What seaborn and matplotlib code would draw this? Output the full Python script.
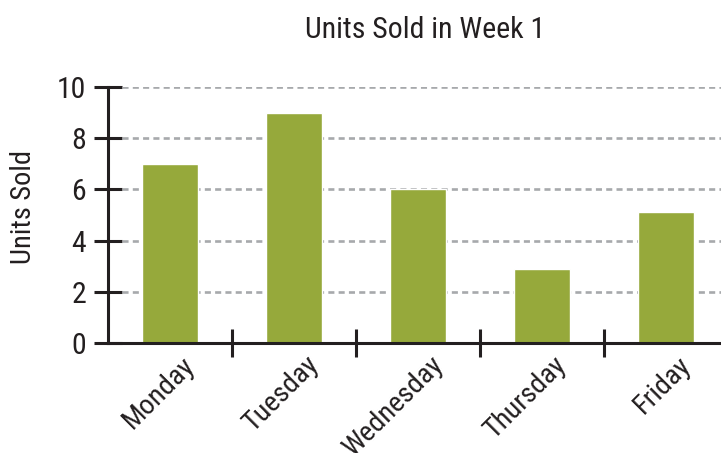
import matplotlib
matplotlib.use("Agg")
import matplotlib.pyplot as plt
import matplotlib.transforms as mtransforms
import seaborn as sns
import pandas as pd

days = ["Monday", "Tuesday", "Wednesday", "Thursday", "Friday"]
units = [7, 9, 6, 2.9, 5.1]
y_ticks = [0, 2, 4, 6, 8, 10]
grid_levels = [2, 4, 6, 8, 10]

title = "Units Sold in Week 1"
y_label = "Units Sold"

sns.set_theme(style="white")
plt.rcParams["font.family"] = ["Roboto Condensed", "Roboto", "DejaVu Sans"]

ink = "#231f20"
bar_color = "#96a93b"
grid_color = "#a7a9ac"

df = pd.DataFrame({"day": days, "units": units})

fig = plt.figure(figsize=(7.21, 4.53), dpi=100)
ax = fig.add_axes([108 / 721, 1 - 343 / 453, 620 / 721, 256 / 453])

sns.barplot(data=df, x="day", y="units", color=bar_color, width=0.45,
            saturation=1, ax=ax, zorder=3)

ax.set_xlim(-0.5, 4.5)
ax.set_ylim(0, 10)

# dashed guides starting just past the y tick marks
ax.hlines(grid_levels, -0.5 + 14 / 124, 4.5, colors=grid_color,
          linestyles=(0, (2.3, 1.6)), linewidth=1.9, zorder=1)

for side in ["top", "right"]:
    ax.spines[side].set_visible(False)
for side in ["left", "bottom"]:
    ax.spines[side].set_color(ink)
    ax.spines[side].set_linewidth(2.2)
    ax.spines[side].set_zorder(4)

ax.set_yticks(y_ticks)
ax.set_yticklabels([str(v) for v in y_ticks])
ax.tick_params(axis="y", left=True, direction="inout", length=19.5, width=2.2,
               color=ink, labelcolor=ink, labelsize=21.5, pad=6)

# separators between categories as major ticks, names on minor ticks
ax.set_xticks([0.5, 1.5, 2.5, 3.5])
ax.set_xticklabels([])
ax.set_xticks(range(len(days)), minor=True)
ax.set_xticklabels(days, minor=True, rotation=45, ha="right", va="top")
ax.tick_params(axis="x", which="major", bottom=True, direction="inout",
               length=19.5, width=2.2, color=ink)
ax.tick_params(axis="x", which="minor", bottom=True, length=0, pad=6,
               labelsize=20.5, labelcolor=ink)
shift = mtransforms.ScaledTranslation(30 / 100, 0, fig.dpi_scale_trans)
for lbl in ax.get_xticklabels(minor=True):
    lbl.set_transform(lbl.get_transform() + shift)

ax.set_xlabel("")
ax.set_ylabel(y_label, fontsize=20.5, color=ink)
ax.yaxis.set_label_coords(-71 / 620, 0.53)

fig.text(425 / 721, 1 - 30 / 453, title, ha="center", va="center",
         fontsize=21.5, color=ink)

fig.savefig("out.png", dpi=100, facecolor="white")
